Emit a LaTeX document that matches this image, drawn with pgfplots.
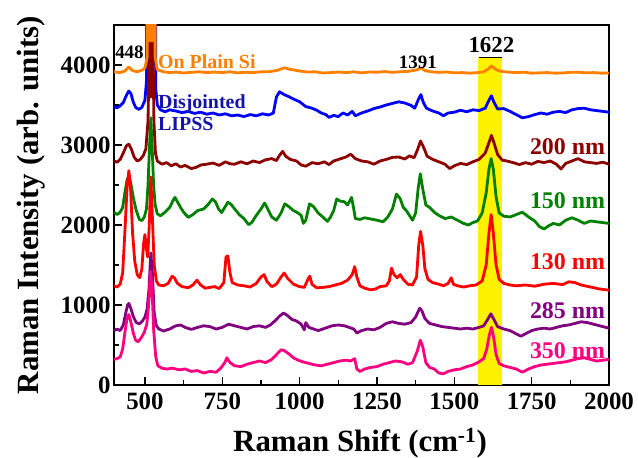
\documentclass[border=0pt]{standalone}
\usepackage{pgfplots}
\pgfplotsset{compat=1.18}
\usepackage{fontspec}
\setmainfont{Liberation Serif}
\definecolor{cOrange}{RGB}{255,128,0}
\definecolor{cBlue}{RGB}{0,0,255}
\definecolor{cBlueTxt}{RGB}{20,20,170}
\definecolor{cDRed}{RGB}{140,0,0}
\definecolor{cGreen}{RGB}{0,128,0}
\definecolor{cRed}{RGB}{255,0,0}
\definecolor{cPurple}{RGB}{128,0,128}
\definecolor{cPink}{RGB}{255,0,128}
\begin{document}
\begin{tikzpicture}
\useasboundingbox (-114bp,-73bp) rectangle (524bp,385bp);
\begin{axis}[
  at={(0,0)}, anchor=south west,
  scale only axis, width=495bp, height=360bp,
  xmin=400, xmax=2000, ymin=0, ymax=4500,
  xtick={500,750,1000,1250,1500,1750,2000},
  ytick={0,1000,2000,3000,4000},
  minor x tick num=1, minor y tick num=1,
  tick pos=left, tick align=inside,
  major tick length=8bp, minor tick length=5bp,
  every tick/.style={black, line width=1.3bp},
  axis line style={line width=1.6bp},
  /pgf/number format/assume math mode=true,
  /pgf/number format/1000 sep={},
  tick label style={font=\fontsize{25}{25}\selectfont\bfseries},
  xticklabel style={yshift=-4bp},
  xlabel={Raman Shift (cm\textsuperscript{-1})},
  ylabel={Raman Intensity (arb. units)},
  label style={font=\fontsize{31}{31}\selectfont\bfseries},
  xlabel style={at={(axis description cs:0.497,-0.186)}, anchor=base},
  ylabel style={at={(axis description cs:-0.168,0.5)}, anchor=center},
  clip=true,
  every axis plot/.append style={line width=2.8bp, line join=round},
]
% yellow band
\addplot[fill=yellow, draw=none, line width=0pt] coordinates {(1578,4090) (1655,4090)} \closedcycle;
\addplot[black, line width=1.2bp] coordinates {(1580,4090) (1653,4090)};

% Disjointed LIPSS (blue)
\addplot[cBlue] coordinates {
(400,3480)(410,3465)(420,3490)(430,3530)(440,3620)(448,3675)(455,3640)(462,3540)(470,3470)(480,3445)(490,3470)(500,3560)(505,3800)(508,30000)(512,4000)(516,30000)(520,4000)(524,30000)(528,4000)(532,30000)(535,3700)(540,3500)(550,3440)(565,3415)(580,3440)(600,3425)(620,3405)(640,3420)(660,3395)(680,3410)(700,3385)(720,3400)(740,3375)(760,3390)(780,3365)(800,3375)(820,3355)(840,3380)(860,3365)(880,3390)(900,3375)(915,3400)(925,3600)(935,3665)(950,3630)(965,3605)(980,3575)(1000,3540)(1020,3480)(1040,3460)(1055,3435)(1070,3400)(1085,3380)(1095,3345)(1110,3370)(1125,3355)(1140,3400)(1155,3375)(1170,3420)(1180,3365)(1200,3400)(1220,3425)(1240,3455)(1260,3475)(1280,3500)(1300,3520)(1320,3540)(1340,3525)(1360,3495)(1372,3460)(1384,3570)(1392,3630)(1400,3530)(1410,3460)(1430,3425)(1450,3400)(1465,3365)(1480,3400)(1500,3410)(1520,3435)(1540,3415)(1560,3440)(1580,3430)(1600,3460)(1612,3560)(1620,3615)(1628,3535)(1640,3450)(1660,3455)(1680,3420)(1700,3380)(1720,3340)(1740,3355)(1760,3380)(1780,3400)(1800,3385)(1820,3410)(1840,3420)(1860,3405)(1880,3440)(1900,3455)(1920,3460)(1940,3440)(1960,3430)(1980,3420)(2000,3410)};

% 200 nm (dark red)
\addplot[cDRed] coordinates {
(400,2800)(410,2785)(420,2820)(430,2900)(440,2990)(448,3010)(456,2950)(465,2850)(475,2800)(485,2820)(495,2870)(503,2950)(510,3300)(514,4280)(517,3600)(520,4280)(523,3600)(526,4280)(529,3300)(534,2900)(540,2800)(555,2760)(570,2780)(585,2740)(600,2765)(615,2725)(630,2745)(650,2705)(665,2720)(680,2750)(700,2760)(720,2775)(740,2745)(760,2790)(775,2765)(790,2760)(810,2790)(830,2765)(850,2800)(870,2780)(890,2815)(910,2830)(925,2805)(935,2870)(945,2920)(955,2860)(970,2820)(990,2800)(1005,2750)(1020,2735)(1040,2780)(1060,2765)(1080,2790)(1095,2755)(1110,2800)(1130,2825)(1150,2850)(1165,2885)(1180,2830)(1200,2800)(1220,2790)(1240,2760)(1260,2800)(1280,2820)(1300,2845)(1320,2850)(1340,2825)(1355,2865)(1370,2840)(1380,2930)(1391,3050)(1402,2960)(1412,2860)(1430,2820)(1450,2790)(1470,2760)(1485,2705)(1500,2740)(1520,2770)(1540,2755)(1560,2790)(1580,2820)(1600,2900)(1612,3030)(1620,3120)(1628,3030)(1640,2880)(1655,2810)(1670,2800)(1690,2780)(1710,2755)(1730,2780)(1750,2760)(1770,2795)(1790,2780)(1810,2800)(1830,2760)(1845,2700)(1860,2770)(1880,2800)(1900,2830)(1920,2790)(1940,2780)(1960,2770)(1980,2785)(2000,2760)};

% 150 nm (green)
\addplot[cGreen] coordinates {
(400,2160)(410,2130)(420,2160)(428,2220)(435,2400)(442,2560)(448,2620)(455,2510)(463,2330)(472,2180)(482,2070)(490,2055)(498,2100)(505,2200)(510,2500)(515,3000)(519,3340)(523,3000)(528,2500)(533,2250)(540,2140)(550,2115)(565,2160)(580,2220)(590,2300)(597,2345)(605,2290)(615,2220)(625,2160)(640,2095)(655,2130)(670,2180)(690,2200)(705,2260)(718,2325)(728,2290)(738,2200)(748,2155)(758,2220)(768,2285)(778,2260)(790,2200)(805,2130)(820,2080)(835,2005)(845,2030)(860,2120)(875,2200)(887,2275)(897,2200)(910,2100)(925,2060)(940,2150)(952,2265)(965,2230)(980,2180)(995,2150)(1005,2120)(1012,2020)(1020,2060)(1032,2265)(1045,2230)(1060,2150)(1075,2100)(1090,2045)(1100,2100)(1110,2180)(1120,2325)(1130,2300)(1145,2290)(1155,2250)(1168,2345)(1175,2200)(1180,2080)(1195,2070)(1210,2090)(1230,2075)(1250,2060)(1270,2040)(1285,2100)(1300,2200)(1313,2385)(1325,2330)(1335,2220)(1345,2180)(1355,2120)(1365,2060)(1375,2150)(1383,2450)(1390,2640)(1398,2450)(1408,2250)(1420,2220)(1435,2160)(1450,2120)(1470,2080)(1490,2100)(1510,2060)(1530,2020)(1545,2000)(1560,2030)(1575,2050)(1590,2150)(1603,2400)(1612,2700)(1619,2830)(1626,2700)(1635,2350)(1645,2150)(1660,2110)(1680,2100)(1700,2130)(1720,2160)(1740,2100)(1760,2050)(1775,1980)(1790,1950)(1805,1990)(1820,2020)(1840,2000)(1860,2060)(1880,2090)(1900,2060)(1920,2020)(1940,2050)(1960,2040)(1980,2030)(2000,2020)};

% 130 nm (red)
\addplot[cRed] coordinates {
(400,1240)(410,1225)(420,1260)(428,1400)(435,1900)(442,2450)(448,2680)(453,2500)(460,1900)(467,1550)(475,1380)(483,1340)(490,1450)(496,1780)(500,1880)(505,1700)(509,1600)(514,2000)(519,2600)(524,2100)(530,1500)(537,1300)(545,1250)(560,1240)(575,1270)(588,1360)(595,1340)(605,1270)(620,1230)(640,1215)(655,1250)(668,1310)(680,1250)(695,1210)(710,1220)(725,1230)(740,1205)(755,1280)(762,1600)(768,1615)(775,1400)(782,1280)(800,1250)(820,1240)(840,1225)(860,1270)(875,1350)(885,1380)(895,1290)(910,1230)(925,1260)(940,1350)(950,1400)(962,1330)(980,1260)(1000,1230)(1015,1220)(1028,1330)(1033,1360)(1040,1260)(1055,1215)(1075,1220)(1095,1230)(1115,1250)(1135,1270)(1155,1310)(1170,1380)(1178,1480)(1185,1350)(1195,1240)(1210,1210)(1230,1190)(1245,1200)(1260,1230)(1280,1240)(1290,1300)(1297,1460)(1305,1380)(1315,1340)(1325,1380)(1335,1320)(1350,1260)(1365,1250)(1378,1350)(1385,1750)(1391,1920)(1398,1750)(1405,1450)(1415,1320)(1430,1280)(1450,1260)(1465,1240)(1480,1270)(1490,1340)(1497,1260)(1510,1240)(1530,1225)(1550,1240)(1570,1250)(1590,1300)(1603,1500)(1612,1900)(1619,2130)(1626,1900)(1635,1500)(1645,1320)(1660,1270)(1680,1250)(1700,1240)(1730,1250)(1760,1235)(1790,1260)(1820,1270)(1850,1255)(1870,1290)(1890,1280)(1910,1250)(1940,1225)(1970,1200)(2000,1185)};

% 285 nm (purple)
\addplot[cPurple] coordinates {
(400,680)(410,700)(420,680)(430,750)(438,900)(444,1000)(448,1020)(455,950)(463,850)(472,780)(482,765)(492,800)(500,850)(507,950)(513,1200)(519,1650)(524,1400)(530,900)(537,740)(545,700)(560,675)(580,700)(600,740)(615,750)(630,720)(650,695)(670,720)(690,740)(710,730)(730,700)(750,720)(770,760)(790,740)(810,720)(830,700)(850,730)(870,740)(890,720)(905,750)(920,800)(935,860)(948,900)(960,870)(975,820)(990,800)(1005,760)(1015,690)(1020,780)(1030,720)(1045,700)(1060,680)(1075,700)(1090,720)(1105,740)(1125,750)(1145,740)(1160,720)(1175,700)(1185,650)(1200,680)(1220,700)(1240,690)(1260,720)(1280,770)(1300,790)(1320,770)(1340,760)(1360,780)(1375,850)(1388,960)(1395,930)(1405,830)(1420,770)(1440,750)(1460,730)(1480,720)(1500,710)(1520,700)(1540,710)(1560,700)(1580,720)(1595,740)(1608,820)(1618,890)(1628,820)(1640,730)(1660,700)(1680,680)(1700,640)(1715,610)(1730,640)(1750,680)(1770,700)(1790,710)(1810,700)(1830,720)(1850,740)(1870,750)(1890,770)(1910,790)(1930,780)(1950,760)(1970,740)(1990,720)(2000,710)};

% 350 nm (pink)
\addplot[cPink] coordinates {
(400,320)(410,330)(420,350)(428,450)(435,650)(442,830)(448,880)(455,780)(463,640)(470,560)(478,540)(488,590)(498,660)(506,760)(512,1000)(518,1420)(523,1200)(528,700)(535,350)(542,240)(555,210)(570,200)(590,210)(610,190)(630,200)(650,170)(670,180)(690,150)(710,170)(730,160)(745,210)(758,280)(765,340)(775,280)(790,240)(810,230)(830,260)(850,280)(870,300)(890,280)(910,320)(925,380)(940,440)(950,430)(965,390)(980,340)(995,310)(1010,290)(1030,270)(1050,250)(1070,240)(1090,260)(1110,280)(1130,300)(1150,310)(1165,300)(1178,330)(1185,200)(1195,170)(1210,200)(1230,220)(1250,230)(1270,260)(1290,280)(1310,300)(1330,290)(1350,260)(1365,280)(1380,420)(1390,560)(1398,480)(1408,280)(1420,220)(1435,200)(1450,150)(1465,140)(1480,170)(1500,190)(1520,200)(1540,230)(1560,250)(1580,290)(1595,330)(1605,450)(1613,620)(1620,720)(1627,600)(1635,380)(1645,270)(1660,240)(1680,220)(1700,200)(1720,160)(1740,200)(1760,230)(1780,250)(1800,260)(1820,270)(1840,280)(1860,290)(1880,310)(1900,330)(1920,340)(1940,320)(1960,300)(1980,310)(2000,320)};

% On Plain Si (orange)
\addplot[cOrange] coordinates {
(400,3915)(420,3905)(435,3925)(448,3975)(460,3930)(475,3915)(490,3935)(500,3960)(507,4100)(511,30000)(514,4300)(517,30000)(520,4300)(523,30000)(526,4300)(529,30000)(533,4100)(540,3940)(560,3915)(580,3905)(600,3912)(625,3900)(650,3908)(675,3915)(700,3905)(725,3912)(750,3905)(775,3915)(800,3902)(825,3910)(850,3905)(875,3915)(900,3915)(930,3935)(950,3965)(970,3945)(1000,3925)(1025,3912)(1050,3915)(1075,3900)(1100,3905)(1125,3912)(1150,3905)(1175,3915)(1200,3902)(1225,3912)(1250,3910)(1275,3918)(1300,3908)(1325,3915)(1350,3920)(1380,3940)(1392,3965)(1405,3930)(1425,3915)(1450,3908)(1475,3912)(1500,3902)(1525,3905)(1550,3898)(1575,3905)(1595,3915)(1610,3950)(1620,3990)(1630,3955)(1645,3925)(1670,3912)(1700,3905)(1725,3910)(1750,3898)(1775,3902)(1800,3905)(1825,3898)(1850,3900)(1875,3908)(1900,3910)(1925,3902)(1950,3905)(1975,3898)(2000,3900)};

% labels
\node[font=\fontsize{19}{19}\selectfont\bfseries, anchor=base, inner sep=0] at (axis cs:450,4075) {448};
\node[font=\fontsize{20}{20}\selectfont\bfseries, text=cOrange, anchor=base west, inner sep=0] at (axis cs:542,3962) {On Plain Si};
\node[font=\fontsize{20}{20}\selectfont\bfseries, text=cBlueTxt, anchor=base west, inner sep=0] at (axis cs:542,3462) {Disjointed};
\node[font=\fontsize{20}{20}\selectfont\bfseries, text=cBlueTxt, anchor=base west, inner sep=0] at (axis cs:542,3175) {LIPSS};
\node[font=\fontsize{19}{19}\selectfont\bfseries, anchor=base, inner sep=0] at (axis cs:1382,3962) {1391};
\node[font=\fontsize{23}{23}\selectfont\bfseries, anchor=base, inner sep=0] at (axis cs:1620,4150) {1622};
\node[font=\fontsize{24}{24}\selectfont\bfseries, text=cDRed, anchor=base east, inner sep=0] at (axis cs:1988,2887) {200 nm};
\node[font=\fontsize{24}{24}\selectfont\bfseries, text=cGreen, anchor=base east, inner sep=0] at (axis cs:1988,2212) {150 nm};
\node[font=\fontsize{24}{24}\selectfont\bfseries, text=cRed, anchor=base east, inner sep=0] at (axis cs:1988,1450) {130 nm};
\node[font=\fontsize{24}{24}\selectfont\bfseries, text=cPurple, anchor=base east, inner sep=0] at (axis cs:1988,837) {285 nm};
\node[font=\fontsize{24}{24}\selectfont\bfseries, text=cPink, anchor=base east, inner sep=0] at (axis cs:1988,337) {350 nm};
\end{axis}
\end{tikzpicture}
\end{document}
